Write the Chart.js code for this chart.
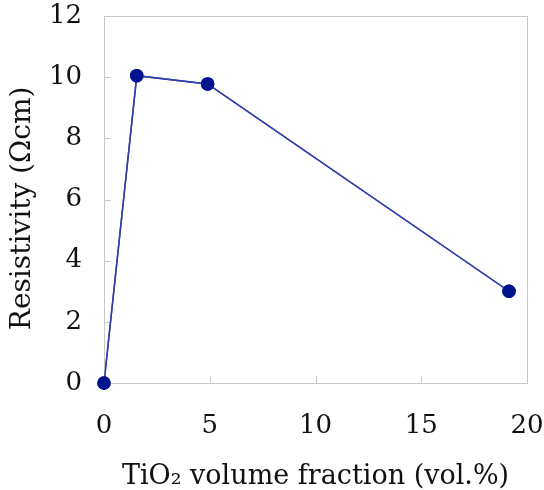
<!DOCTYPE html>
<html lang="en">
<head>
    <meta charset="UTF-8">
    <title>Resistivity vs TiO2</title>
    <script src="https://cdn.jsdelivr.net/npm/chart.js"></script>
    <style>
        body {
            margin: 0;
            background: #fff;
        }
        .chart-container {
            position: relative;
            width: 544px;
            height: 490px;
        }
    </style>
</head>
<body>
    <div class="chart-container">
        <canvas id="resChart"></canvas>
    </div>

    <script>
        // values
        const tio2Fraction = [0, 1.55, 4.9, 19.15];
        const resistivity = [0, 10.05, 9.78, 3.0];
        const xTicks = [0, 5, 10, 15, 20];
        const yTicks = [0, 2, 4, 6, 8, 10, 12];

        const points = tio2Fraction.map((x, i) => ({ x: x, y: resistivity[i] }));

        // box around plot area + short inward tick marks
        const frame = {
            id: 'frame',
            afterDraw(chart) {
                const { ctx, chartArea: a, scales } = chart;
                ctx.save();
                ctx.strokeStyle = '#c8c8c8';
                ctx.lineWidth = 1;
                ctx.strokeRect(a.left + 0.5, a.top + 0.5, a.right - a.left, a.bottom - a.top);
                ctx.beginPath();
                xTicks.forEach(v => {
                    const px = Math.round(scales.x.getPixelForValue(v)) + 0.5;
                    ctx.moveTo(px, a.bottom);
                    ctx.lineTo(px, a.bottom - 7);
                });
                yTicks.forEach(v => {
                    const py = Math.round(scales.y.getPixelForValue(v)) + 0.5;
                    ctx.moveTo(a.left, py);
                    ctx.lineTo(a.left + 7, py);
                });
                ctx.stroke();
                ctx.restore();
                // redraw points on top of the frame
                chart.getDatasetMeta(0).controller.draw();
            }
        };

        const ctx = document.getElementById('resChart').getContext('2d');
        new Chart(ctx, {
            type: 'scatter',
            data: {
                datasets: [{
                    data: points,
                    showLine: true,
                    borderColor: '#3140a8',
                    borderWidth: 1.5,
                    pointBackgroundColor: '#00138f',
                    pointBorderColor: '#00138f',
                    pointRadius: 6,
                    clip: false
                }]
            },
            options: {
                responsive: true,
                maintainAspectRatio: false,
                animation: false,
                layout: {
                    padding: { top: 16, right: 17, left: 0, bottom: 0 }
                },
                plugins: {
                    legend: { display: false },
                    tooltip: { enabled: false }
                },
                scales: {
                    x: {
                        type: 'linear',
                        min: 0,
                        max: 20,
                        afterBuildTicks: s => { s.ticks = xTicks.map(v => ({ value: v })); },
                        afterFit: s => { s.height = 107; s.paddingLeft = 0; s.paddingRight = 0; },
                        grid: { display: false, drawTicks: false },
                        border: { display: false },
                        ticks: {
                            padding: 28,
                            color: '#111',
                            font: { family: 'DejaVu Serif', size: 26 }
                        },
                        title: {
                            display: true,
                            text: 'TiO\u2082 volume fraction (vol.%)',
                            color: '#111',
                            padding: { top: 0, bottom: 0 },
                            font: { family: 'DejaVu Serif', size: 27, lineHeight: 1 }
                        }
                    },
                    y: {
                        type: 'linear',
                        min: 0,
                        max: 12,
                        afterBuildTicks: s => { s.ticks = yTicks.map(v => ({ value: v })); },
                        afterFit: s => { s.width = 104; s.paddingTop = 0; s.paddingBottom = 0; },
                        grid: { display: false, drawTicks: false },
                        border: { display: false },
                        ticks: {
                            padding: 22,
                            color: '#111',
                            font: { family: 'DejaVu Serif', size: 26 }
                        },
                        title: {
                            display: true,
                            // two trailing spaces nudge the rotated title a little lower, as in the reference
                            text: 'Resistivity (\u03A9cm)  ',
                            color: '#111',
                            padding: { top: 6, bottom: 0 },
                            font: { family: 'DejaVu Serif', size: 28 }
                        }
                    }
                }
            },
            plugins: [frame]
        });
    </script>
</body>
</html>
